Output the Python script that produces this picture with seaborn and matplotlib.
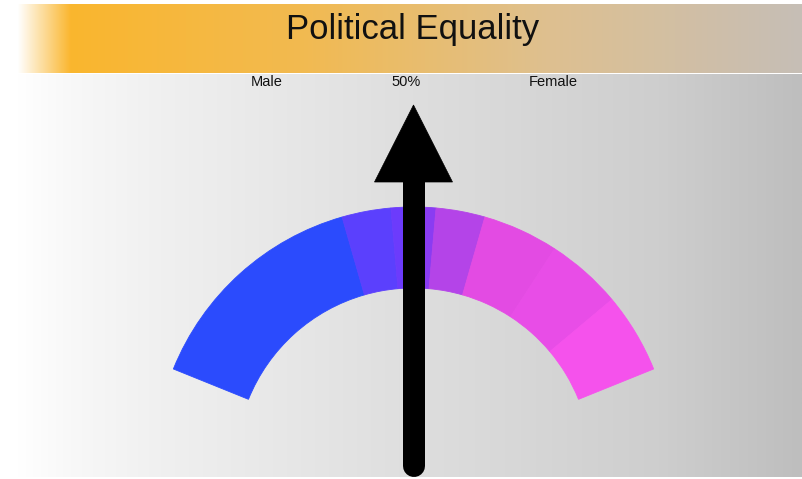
import numpy as np
import matplotlib.pyplot as plt
import seaborn as sns
from matplotlib.patches import Wedge, Polygon

# data
title = "Political Equality"
tick_labels = ["Male", "50%", "Female"]
# angular size of each gauge band (degrees), left (male) to right (female)
segment_spans = [52, 11, 5, 5, 11, 17, 17, 18]
segment_colors = ["#2b4bfd", "#5b40fd", "#6c3bfc", "#8a3cf2",
                  "#b444e8", "#e34be3", "#e84de7", "#f552ec"]
pointer_value = 0.5  # 50%

sns.set_theme(style="white")
plt.rcParams['font.family'] = ['Liberation Sans', 'DejaVu Sans']

W, H = 802, 479
fig = plt.figure(figsize=(W / 100, H / 100), dpi=100)
ax = fig.add_axes([0, 0, 1, 1])
ax.set_xlim(0, W)
ax.set_ylim(H, 0)
ax.axis('off')
fig.patch.set_facecolor('white')

# background gradient (white -> grey)
xs = np.linspace(17, W, 400)
grey = np.interp(xs, [17, 70, 160, 413, 660, 802], [255, 248, 240, 222, 206, 190]) / 255
bg = np.dstack([grey, grey, grey])
ax.imshow(bg, extent=(17, W, 477, 74), aspect='auto', interpolation='bilinear', zorder=0)

# title banner (white -> orange -> beige grey)
r = np.interp(xs, [17, 70, 300, 550, 802], [255, 250, 242, 222, 198]) / 255
g = np.interp(xs, [17, 70, 300, 550, 802], [255, 182, 186, 192, 190]) / 255
b = np.interp(xs, [17, 70, 300, 550, 802], [255, 46, 80, 144, 182]) / 255
banner = np.dstack([r, g, b])
ax.imshow(banner, extent=(17, W, 73, 4), aspect='auto', interpolation='bilinear', zorder=1)

ax.text(413, 29, title, ha='center', va='center', fontsize=25, color='#111111', zorder=5)
for x, lab in zip([267, 406, 553], tick_labels):
    ax.text(x, 82, lab, ha='center', va='center', fontsize=10.5, color='#111111', zorder=5)

# gauge
cx, cy = 413.5, 466
r_out, r_in = 259, 178
start, total = 158, sum(segment_spans)
a = start
for span, col in zip(segment_spans, segment_colors):
    a1, a2 = a - span, a
    # y axis is flipped, so on-screen angle a maps to data angle -a
    ax.add_patch(Wedge((cx, cy), r_out, -a2, -a1, width=r_out - r_in,
                       facecolor=col, edgecolor=col, lw=0.6, zorder=2))
    a = a1

# pointer arrow
ang = np.deg2rad(start - pointer_value * total)
L, head_len, head_w = 361, 77, 78
ux, uy = np.cos(ang), -np.sin(ang)
tip = (cx + L * ux, cy + L * uy)
base = (cx + (L - head_len) * ux, cy + (L - head_len) * uy)
ax.plot([cx, base[0] + 2 * ux], [cy, base[1] + 2 * uy], color='black',
        lw=22 * 0.72, solid_capstyle='round', zorder=3)
px, py = -uy, ux
head = [(base[0] + px * head_w / 2, base[1] + py * head_w / 2),
        (base[0] - px * head_w / 2, base[1] - py * head_w / 2), tip]
ax.add_patch(Polygon(head, closed=True, facecolor='black', edgecolor='black', lw=0.5, zorder=3))

fig.savefig('out.png', dpi=100)
